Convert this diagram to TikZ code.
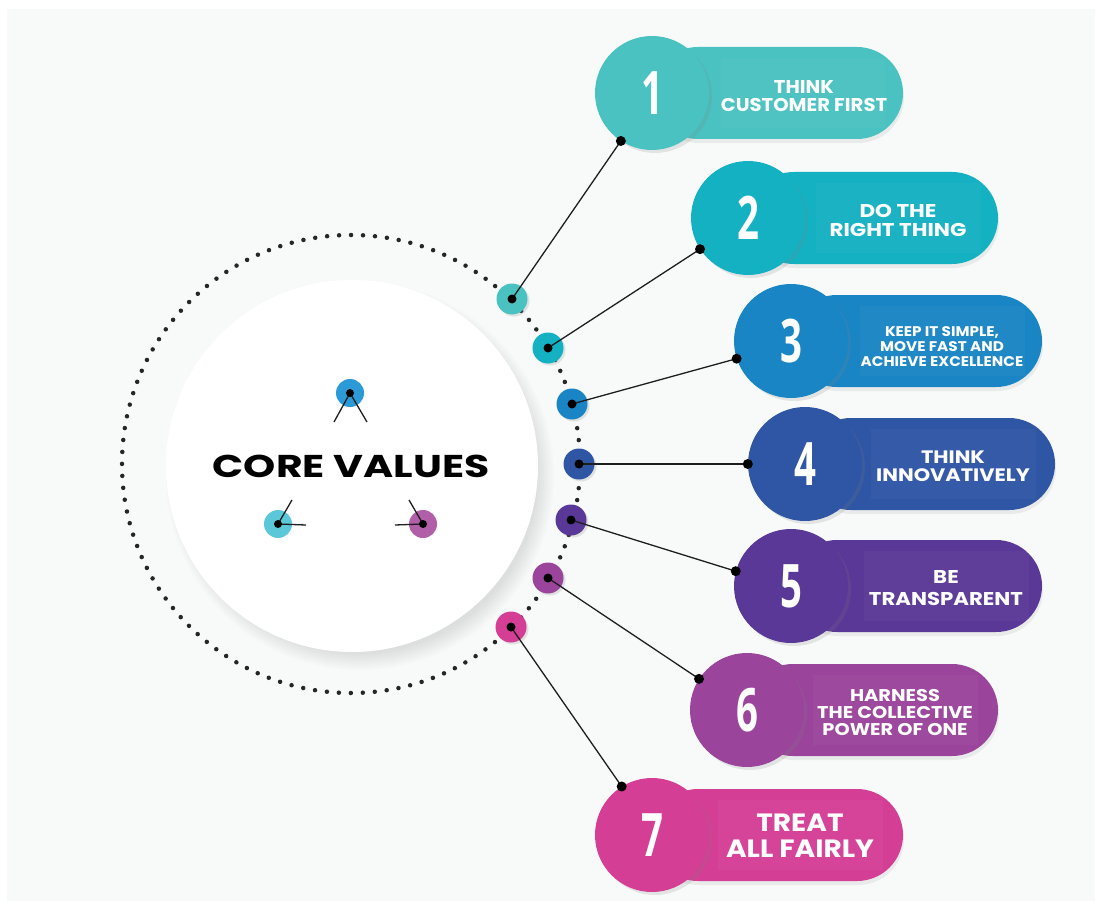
\documentclass[tikz,border=0pt]{standalone}
\usepackage{fontspec}
\usepackage{graphicx}
\setmainfont{Poppins}
\newfontfamily\numfont{Open Sans}
\usetikzlibrary{shadows}
\definecolor{bgc}{HTML}{F8FAFA}
\definecolor{ca}{HTML}{4AC2C1}
\definecolor{cb}{HTML}{14B1C3}
\definecolor{cc}{HTML}{1A85C5}
\definecolor{cd}{HTML}{2F55A5}
\definecolor{ce}{HTML}{5A3897}
\definecolor{cf}{HTML}{9A459B}
\definecolor{cg}{HTML}{D43E95}
\definecolor{icb}{HTML}{2D9AD8}
\definecolor{icc}{HTML}{5BC8DA}
\definecolor{icm}{HTML}{B05FA8}
\definecolor{linec}{HTML}{1E1E1E}
\newcommand{\numtxt}[1]{\scalebox{0.64}[1]{\numfont\bfseries\fontsize{60}{60}\selectfont #1}}
\newcommand{\wtext}[2]{\scalebox{#1}[1]{\begin{tabular}{@{}c@{}}#2\end{tabular}}}
\tikzset{
  numc/.style={circle, minimum size=114pt, inner sep=0pt, text=white,
    drop shadow={shadow xshift=3pt, shadow yshift=-3pt, opacity=0.18}},
  pill/.style={rectangle, rounded corners=46pt, minimum height=92pt, inner sep=0pt,
    drop shadow={shadow xshift=1pt, shadow yshift=-4pt, opacity=0.12}},
  inner/.style={rectangle, fill=white, fill opacity=0.03, inner sep=0pt, minimum height=70pt},
  smallc/.style={circle, minimum size=31pt, inner sep=0pt,
    drop shadow={shadow xshift=2pt, shadow yshift=-2pt, opacity=0.2}},
  iconc/.style={circle, minimum size=28pt, inner sep=0pt},
  blackdot/.style={circle, fill=black, minimum size=10pt, inner sep=0pt},
  conn/.style={draw=linec, line width=1.3pt},
  ptext/.style={text=white, align=center, inner sep=0pt},
  dotring/.style={draw=black!85, line width=4.5pt, line cap=round, dash pattern=on 0pt off 11.99pt}
}
\begin{document}
\begin{tikzpicture}[x=1pt,y=-1pt]
\useasboundingbox (0,0) rectangle (1102,909);
\fill[white] (0,0) rectangle (1102,909);
\fill[bgc] (7,9) rectangle (1095,901);

% dotted ring
\draw[dotring] (351,464) circle[radius=229pt];

% big white circle with soft shadow
\foreach \r in {178,180,...,194} {
  \fill[black, opacity=0.012] (360,476) circle[radius=\r pt];
}
\node[circle, fill=white, minimum size=372pt, inner sep=0pt] (core) at (352,466) {};
\node[font=\bfseries\fontsize{31.5}{31.5}\selectfont, text=black, inner sep=0pt] (title) at (351,466) {\scalebox{1.3}[1]{CORE VALUES}};

% icons in the core circle
\node[iconc, fill=icb] (i1) at (350,393) {};
\node[iconc, fill=icc] (i2) at (278,524) {};
\node[iconc, fill=icm] (i3) at (423,524) {};
\coordinate (i1a) at (334,422); \coordinate (i1b) at (367,422);
\coordinate (i2a) at (292,500); \coordinate (i2b) at (306,525);
\coordinate (i3a) at (409,500); \coordinate (i3b) at (395,525);
\draw[conn] (i1a) -- (i1.center) -- (i1b);
\draw[conn] (i2a) -- (i2.center) -- (i2b);
\draw[conn] (i3a) -- (i3.center) -- (i3b);
\node[blackdot, minimum size=8pt] (i1d) at (i1.center) {};
\node[blackdot, minimum size=8pt] (i2d) at (i2.center) {};
\node[blackdot, minimum size=8pt] (i3d) at (i3.center) {};

% pills
\node[pill, fill=ca, minimum width=251pt] (p1) at (777.5,93) {};
\node[pill, fill=cb, minimum width=250pt] (p2) at (873,218) {};
\node[pill, fill=cc, minimum width=251pt] (p3) at (916.5,341) {};
\node[pill, fill=cd, minimum width=250pt] (p4) at (930,464) {};
\node[pill, fill=ce, minimum width=251pt] (p5) at (916.5,586) {};
\node[pill, fill=cf, minimum width=251pt] (p6) at (872.5,710) {};
\node[pill, fill=cg, minimum width=251pt] (p7) at (777.5,835) {};

% subtle inner panels
\node[inner, minimum width=165pt] (q1) at (803,93) {};
\node[inner, minimum width=165pt] (q2) at (898,218) {};
\node[inner, minimum width=165pt] (q3) at (942,341) {};
\node[inner, minimum width=165pt] (q4) at (953,464) {};
\node[inner, minimum width=165pt] (q5) at (946,586) {};
\node[inner, minimum width=165pt] (q6) at (895,710) {};
\node[inner, minimum width=165pt] (q7) at (800,835) {};

% pill texts
\node[ptext, font=\bfseries\fontsize{18.5}{18}\selectfont] (t1) at (804,98.5) {\wtext{1.06}{THINK\\CUSTOMER FIRST}};
\node[ptext, font=\bfseries\fontsize{18.5}{19}\selectfont] (t2) at (898,223) {\wtext{1.16}{DO THE\\RIGHT THING}};
\node[ptext, font=\bfseries\fontsize{14}{15}\selectfont] (t3) at (942,348) {\wtext{1.09}{KEEP IT SIMPLE,\\MOVE FAST AND\\ACHIEVE EXCELLENCE}};
\node[ptext, font=\bfseries\fontsize{18}{18.5}\selectfont] (t4) at (953,469) {\wtext{1.16}{THINK\\INNOVATIVELY}};
\node[ptext, font=\bfseries\fontsize{18.5}{22}\selectfont] (t5) at (946,590.5) {\wtext{1.15}{BE\\TRANSPARENT}};
\node[ptext, font=\bfseries\fontsize{17}{17}\selectfont] (t6) at (895,715) {\wtext{1.14}{HARNESS\\THE COLLECTIVE\\POWER OF ONE}};
\node[ptext, font=\bfseries\fontsize{25}{26}\selectfont] (t7) at (800,839.5) {\wtext{1.12}{TREAT\\ALL FAIRLY}};

% number circles
\node[numc, fill=ca] (n1) at (652,93) {\numtxt{1}};
\node[numc, fill=cb] (n2) at (748,218) {\numtxt{2}};
\node[numc, fill=cc] (n3) at (791,341) {\numtxt{3}};
\node[numc, fill=cd] (n4) at (805,464) {\numtxt{4}};
\node[numc, fill=ce] (n5) at (791,586) {\numtxt{5}};
\node[numc, fill=cf] (n6) at (747,710) {\numtxt{6}};
\node[numc, fill=cg] (n7) at (652,835) {\numtxt{7}};

% small circles on the ring
\node[smallc, fill=ca] (s1) at (512,299) {};
\node[smallc, fill=cb] (s2) at (548,348) {};
\node[smallc, fill=cc] (s3) at (572,404) {};
\node[smallc, fill=cd] (s4) at (579,464) {};
\node[smallc, fill=ce] (s5) at (571,520) {};
\node[smallc, fill=cf] (s6) at (548,578) {};
\node[smallc, fill=cg] (s7) at (511,627) {};

% end dots on number circles
\coordinate (e1) at (n1.-123);
\coordinate (e2) at (n2.-147);
\coordinate (e3) at (n3.-162);
\coordinate (e4) at (n4.180);
\coordinate (e5) at (n5.165);
\coordinate (e6) at (n6.147);
\coordinate (e7) at (n7.122);

\foreach \k in {1,...,7} {
  \draw[conn] (s\k.center) -- (e\k);
}
\foreach \k in {1,...,7} {
  \node[blackdot, minimum size=9pt] (sd\k) at (s\k.center) {};
  \node[blackdot] (d\k) at (e\k) {};
}
\end{tikzpicture}
\end{document}
